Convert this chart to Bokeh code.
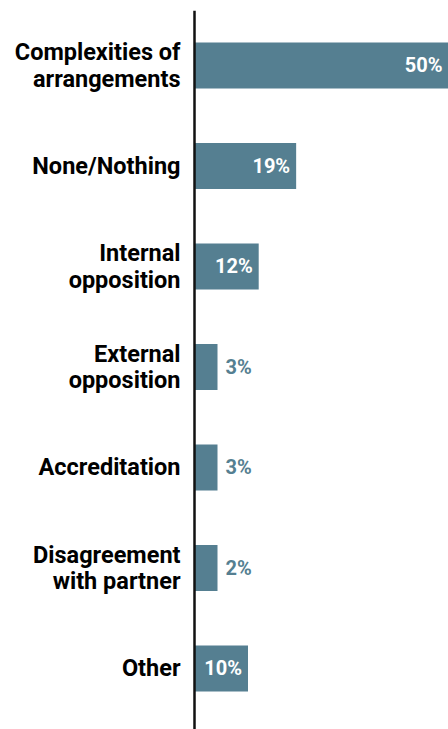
from bokeh.plotting import figure
from bokeh.models import ColumnDataSource, Range1d, Span
from bokeh.core.properties import value
from bokeh.embed import file_html
from bokeh.resources import INLINE

categories = ["Complexities of\narrangements", "None/Nothing", "Internal\nopposition",
              "External\nopposition", "Accreditation", "Disagreement\nwith partner", "Other"]
values = [50, 19, 12, 3, 3, 2, 10]
value_labels = ["50%", "19%", "12%", "3%", "3%", "2%", "10%"]

BAR = "#557f91"
MIN_LEN = 4.3        # smallest drawn bar, so tiny shares stay visible
INSIDE_MIN = 10      # shares at/above this get their label inside the bar

W, H = 448, 729
X0 = -194 / 5.35
X1 = (W - 194) / 5.35

ypos = list(range(len(categories)))
bar_len = [max(v, MIN_LEN) for v in values]
label_anchor = [min(b, X1) for b in bar_len]

p = figure(width=W, height=H, output_backend="svg", toolbar_location=None,
           x_range=Range1d(X0, X1),
           y_range=Range1d(6.607, -0.547),
           min_border_left=0, min_border_right=0, min_border_top=10, min_border_bottom=0)
p.xaxis.visible = False
p.yaxis.visible = False
p.xgrid.visible = False
p.ygrid.visible = False
p.outline_line_color = None
p.background_fill_color = "white"
p.border_fill_color = "white"

src = ColumnDataSource(dict(y=ypos, right=bar_len, cat=categories))
p.hbar(y="y", left=0, right="right", height=0.458, source=src,
       fill_color=BAR, line_color=None)

# category labels
p.text(x=0, y="y", text="cat", source=src, x_offset=-14,
       text_align="right", text_baseline="middle",
       text_font=value("Roboto"), text_font_style="bold",
       text_font_size="23.5px", text_color="#000000", text_line_height=0.95)

# value labels
ins = [i for i, v in enumerate(values) if v >= INSIDE_MIN]
outs = [i for i, v in enumerate(values) if v < INSIDE_MIN]
src_in = ColumnDataSource(dict(x=[label_anchor[i] for i in ins], y=[ypos[i] for i in ins],
                               t=[value_labels[i] for i in ins]))
src_out = ColumnDataSource(dict(x=[label_anchor[i] for i in outs], y=[ypos[i] for i in outs],
                                t=[value_labels[i] for i in outs]))
p.text(x="x", y="y", text="t", source=src_in, x_offset=-6,
       text_align="right", text_baseline="middle",
       text_font=value("Roboto"), text_font_style="bold",
       text_font_size="20px", text_color="white")
p.text(x="x", y="y", text="t", source=src_out, x_offset=8,
       text_align="left", text_baseline="middle",
       text_font=value("Roboto"), text_font_style="bold",
       text_font_size="20px", text_color=BAR)

p.add_layout(Span(location=0, dimension="height", line_color="#111111",
                  line_width=2.5, level="overlay"))

open("out.html", "w").write(file_html(p, INLINE))
